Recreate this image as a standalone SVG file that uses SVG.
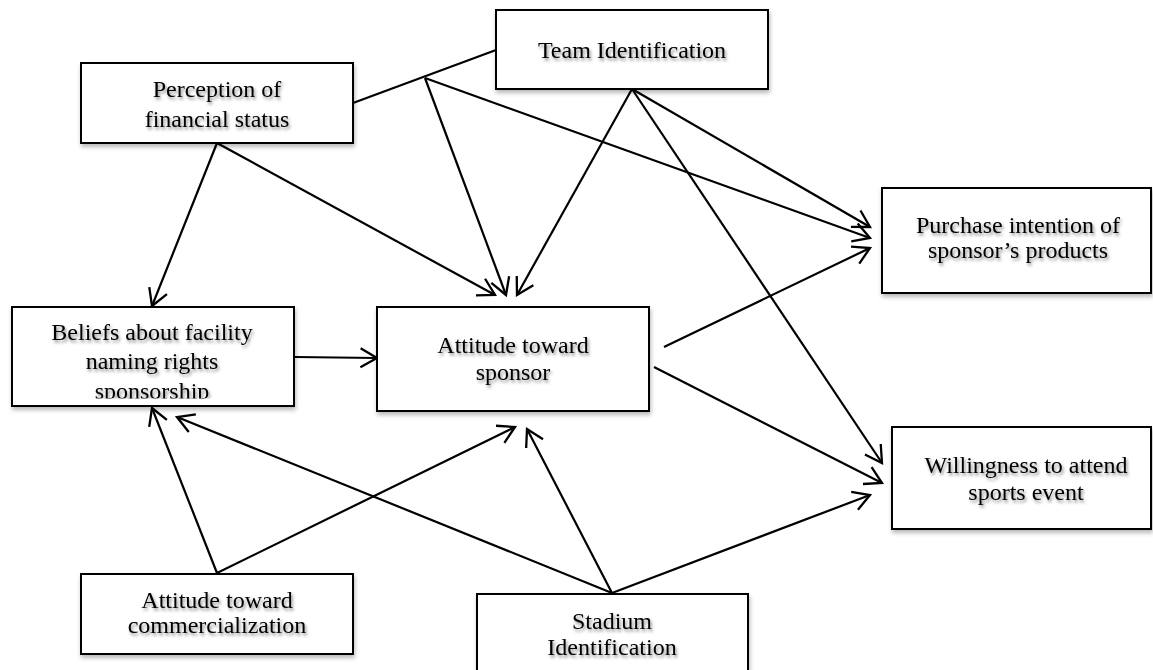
<svg xmlns="http://www.w3.org/2000/svg" width="1153" height="670" viewBox="0 0 1153 670">
  <defs>
    <filter id="boxShadow" x="-10%" y="-10%" width="130%" height="140%">
      <feDropShadow dx="1" dy="3" stdDeviation="2" flood-color="#000" flood-opacity="0.28"/>
    </filter>
    <filter id="textShadow" x="-10%" y="-30%" width="130%" height="170%">
      <feDropShadow dx="1.5" dy="2.5" stdDeviation="1.6" flood-color="#000" flood-opacity="0.45"/>
    </filter>
    <marker id="ah" viewBox="-20 -13 23 26" refX="0" refY="0" markerWidth="23" markerHeight="26" markerUnits="userSpaceOnUse" orient="auto">
      <path d="M-16.5,-9.5 L0,0 L-16.5,9.5" fill="none" stroke="#000" stroke-width="2.3"/>
    </marker>
    <clipPath id="beliefsClip">
      <rect x="12" y="307" width="282" height="91.5"/>
    </clipPath>
  </defs>
  <style>
    .box { fill: #fff; stroke: #000; stroke-width: 2; filter: url(#boxShadow); }
    .lbl { font-family: "Liberation Serif", "Times New Roman", serif; font-size: 24px; fill: #000; text-anchor: middle; filter: url(#textShadow); }
    .ln { stroke: #000; stroke-width: 2.2; fill: none; }
    .arr { stroke: #000; stroke-width: 2.2; fill: none; marker-end: url(#ah); }
  </style>
  <rect width="1153" height="670" fill="#fff"/>

  <g id="connectors">
    <line class="ln" x1="353" y1="103" x2="496" y2="50"/>
    <line class="arr" x1="425" y1="78" x2="506" y2="295"/>
    <line class="arr" x1="425" y1="78" x2="870" y2="238"/>
    <line class="arr" x1="632" y1="89" x2="517" y2="295"/>
    <line class="arr" x1="632" y1="89" x2="870" y2="227"/>
    <line class="arr" x1="632" y1="89" x2="882" y2="463"/>
    <line class="arr" x1="217" y1="143" x2="152" y2="306"/>
    <line class="arr" x1="217" y1="143" x2="495" y2="295"/>
    <line class="arr" x1="295" y1="357" x2="377" y2="358"/>
    <line class="arr" x1="664" y1="347" x2="870" y2="248"/>
    <line class="arr" x1="654" y1="367" x2="882" y2="483"/>
    <line class="arr" x1="217" y1="573" x2="152" y2="408"/>
    <line class="arr" x1="217" y1="573" x2="515" y2="427"/>
    <line class="arr" x1="612" y1="593" x2="177" y2="417"/>
    <line class="arr" x1="612" y1="593" x2="527" y2="429"/>
    <line class="arr" x1="612" y1="593" x2="870" y2="495"/>
  </g>

  <g id="perception">
    <rect class="box" x="81" y="63" width="272" height="80"/>
    <text class="lbl" x="217" y="97">Perception of</text>
    <text class="lbl" x="217" y="127">financial status</text>
  </g>

  <g id="team-identification">
    <rect class="box" x="496" y="10" width="272" height="79"/>
    <text class="lbl" x="632" y="58">Team Identification</text>
  </g>

  <g id="purchase-intention">
    <rect class="box" x="882" y="188" width="269" height="105"/>
    <text class="lbl" x="1018" y="233">Purchase intention of</text>
    <text class="lbl" x="1018" y="258">sponsor’s products</text>
  </g>

  <g id="beliefs">
    <rect class="box" x="12" y="307" width="282" height="99"/>
    <g clip-path="url(#beliefsClip)">
      <text class="lbl" x="152" y="340">Beliefs about facility</text>
      <text class="lbl" x="152" y="369">naming rights</text>
      <text class="lbl" x="152" y="399">sponsorship</text>
    </g>
  </g>

  <g id="attitude-sponsor">
    <rect class="box" x="377" y="307" width="272" height="104"/>
    <text class="lbl" x="513" y="353">Attitude toward</text>
    <text class="lbl" x="513" y="380">sponsor</text>
  </g>

  <g id="willingness">
    <rect class="box" x="892" y="427" width="259" height="102"/>
    <text class="lbl" x="1026" y="473">Willingness to attend</text>
    <text class="lbl" x="1026" y="500">sports event</text>
  </g>

  <g id="attitude-commercialization">
    <rect class="box" x="81" y="574" width="272" height="80"/>
    <text class="lbl" x="217" y="608">Attitude toward</text>
    <text class="lbl" x="217" y="633">commercialization</text>
  </g>

  <g id="stadium-identification">
    <rect class="box" x="477" y="594" width="271" height="90"/>
    <text class="lbl" x="612" y="629">Stadium</text>
    <text class="lbl" x="612" y="655">Identification</text>
  </g>
</svg>
